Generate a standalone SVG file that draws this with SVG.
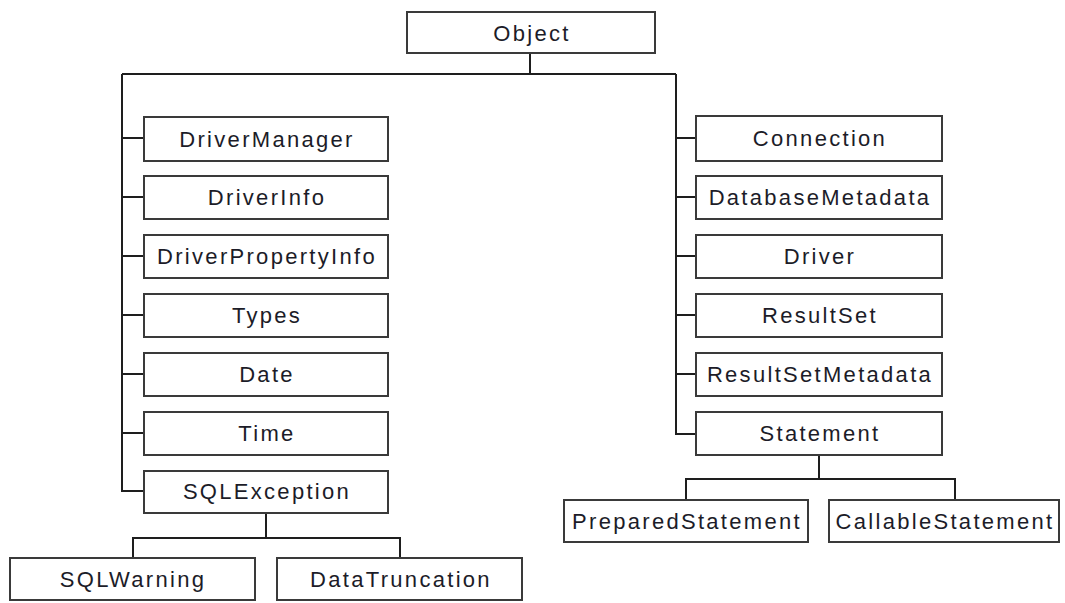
<svg xmlns="http://www.w3.org/2000/svg" width="1065" height="603" viewBox="0 0 1065 603">
<style>
.box{fill:#fff;stroke:#3a3a3a;stroke-width:2}
.lbl{font-family:"Liberation Sans",Arial,sans-serif;font-size:22px;letter-spacing:2.3px;fill:#1c1c28;text-anchor:middle;dominant-baseline:central}
.conn{fill:none;stroke:#1e1e1e;stroke-width:2}
</style>
<rect width="1065" height="603" fill="#fff"/>
<g id="connectors">
<path class="conn" d="M530 53V74M122 74H676M122 74V491H144M676 74V434H696"/>
<path class="conn" d="M122 138H144M122 197H144M122 256H144M122 315H144M122 374H144M122 433H144"/>
<path class="conn" d="M676 138H696M676 197H696M676 256H696M676 315H696M676 374H696"/>
<path class="conn" d="M266 513V538M133 558V538H400V558"/>
<path class="conn" d="M819 455V479M686 500V479H955V500"/>
</g>
<g id="n-object"><rect class="box" x="407" y="12" width="248" height="41"/><text class="lbl" x="532" y="33">Object</text></g>
<g id="n-drivermanager"><rect class="box" x="144" y="117" width="244" height="44"/><text class="lbl" x="267" y="139">DriverManager</text></g>
<g id="n-driverinfo"><rect class="box" x="144" y="176" width="244" height="43"/><text class="lbl" x="267" y="197">DriverInfo</text></g>
<g id="n-driverpropertyinfo"><rect class="box" x="144" y="235" width="244" height="43"/><text class="lbl" x="267" y="256">DriverPropertyInfo</text></g>
<g id="n-types"><rect class="box" x="144" y="294" width="244" height="43"/><text class="lbl" x="267" y="315">Types</text></g>
<g id="n-date"><rect class="box" x="144" y="353" width="244" height="43"/><text class="lbl" x="267" y="374">Date</text></g>
<g id="n-time"><rect class="box" x="144" y="412" width="244" height="43"/><text class="lbl" x="267" y="433">Time</text></g>
<g id="n-sqlexception"><rect class="box" x="144" y="471" width="244" height="42"/><text class="lbl" x="267" y="491">SQLException</text></g>
<g id="n-sqlwarning"><rect class="box" x="10" y="558" width="245" height="42"/><text class="lbl" x="133" y="579">SQLWarning</text></g>
<g id="n-datatruncation"><rect class="box" x="277" y="558" width="245" height="42"/><text class="lbl" x="401" y="579">DataTruncation</text></g>
<g id="n-connection"><rect class="box" x="696" y="116" width="246" height="45"/><text class="lbl" x="820" y="138">Connection</text></g>
<g id="n-databasemetadata"><rect class="box" x="696" y="176" width="246" height="43"/><text class="lbl" x="820" y="197">DatabaseMetadata</text></g>
<g id="n-driver"><rect class="box" x="696" y="235" width="246" height="43"/><text class="lbl" x="820" y="256">Driver</text></g>
<g id="n-resultset"><rect class="box" x="696" y="294" width="246" height="43"/><text class="lbl" x="820" y="315">ResultSet</text></g>
<g id="n-resultsetmetadata"><rect class="box" x="696" y="353" width="246" height="43"/><text class="lbl" x="820" y="374">ResultSetMetadata</text></g>
<g id="n-statement"><rect class="box" x="696" y="412" width="246" height="43"/><text class="lbl" x="820" y="433">Statement</text></g>
<g id="n-preparedstatement"><rect class="box" x="564" y="500" width="244" height="42"/><text class="lbl" x="687" y="521">PreparedStatement</text></g>
<g id="n-callablestatement"><rect class="box" x="829" y="500" width="230" height="42"/><text class="lbl" x="945" y="521">CallableStatement</text></g>
</svg>
